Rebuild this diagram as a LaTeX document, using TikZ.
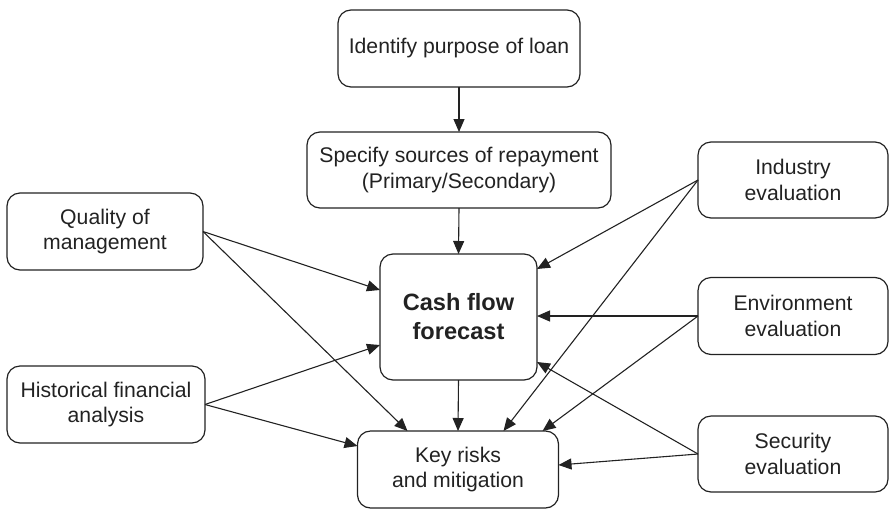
\documentclass[tikz,border=0pt]{standalone}
\usepackage{fontspec}
\setmainfont{Liberation Sans}
\usetikzlibrary{arrows.meta}
\definecolor{ink}{HTML}{222222}
\begin{document}
\begin{tikzpicture}[x=1pt,y=-1pt,
  box/.style={draw=ink, text=ink, line width=1.2pt, rounded corners=13pt,
    inner sep=0pt, outer sep=0pt, align=center,
    font=\fontsize{21.2}{25.5}\selectfont},
  link/.style={draw=ink, line width=1.1pt, -{Triangle[length=13pt,width=11pt]}}
]
\useasboundingbox (0,0) rectangle (890,509);
\node[box, minimum width=242pt, minimum height=77pt] (ident) at (459,48.5) {Identify purpose of loan};
\node[box, minimum width=304pt, minimum height=76pt] (spec) at (459,170) {Specify sources of repayment\\(Primary/Secondary)};
\node[box, minimum width=196pt, minimum height=77pt] (qual) at (105,231.5) {Quality of\\management};
\node[box, minimum width=198pt, minimum height=77pt] (hist) at (106,404.5) {Historical financial\\analysis};
\node[box, minimum width=157pt, minimum height=126pt, font=\bfseries\fontsize{23.6}{29}\selectfont] (cash) at (458.5,317) {Cash flow\\forecast};
\node[box, minimum width=201pt, minimum height=77pt] (risk) at (458,469.5) {Key risks\\and mitigation};
\node[box, minimum width=190pt, minimum height=76pt] (ind) at (793,180) {Industry\\evaluation};
\node[box, minimum width=190pt, minimum height=77pt] (env) at (793,316) {Environment\\evaluation};
\node[box, minimum width=190pt, minimum height=76pt] (sec) at (793,454) {Security\\evaluation};

\draw[link] (ident.south) -- (spec.north);
\draw[link] (spec.south) -- (cash.north);
\draw[link] (cash.south) -- (risk.north);

\draw[link] (qual.east) -- ([yshift=27pt]cash.west);
\draw[link] (qual.east) -- ([xshift=-50.5pt]risk.north);
\draw[link] (hist.east) -- ([yshift=-28pt]cash.west);
\draw[link] (hist.east) -- ([yshift=23.5pt]risk.west);

\draw[link] (ind.west) -- ([yshift=48pt]cash.east);
\draw[link] (ind.west) -- ([xshift=45.5pt]risk.north);
\draw[link] (env.west) -- (env.west -| cash.east);
\draw[link] (env.west) -- ([xshift=84.5pt]risk.north);
\draw[link] (sec.west) -- ([yshift=-45pt]cash.east);
\draw[link] (sec.west) -- ([yshift=4.5pt]risk.east);
\end{tikzpicture}
\end{document}
